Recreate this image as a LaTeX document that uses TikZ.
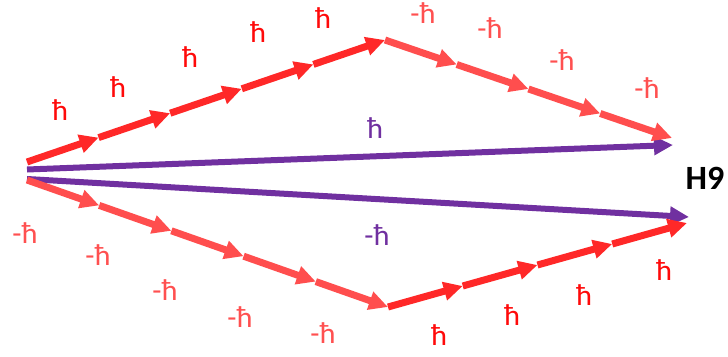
\documentclass[tikz,border=0pt]{standalone}
\usepackage{fontspec}
\setmainfont{Carlito}
\usetikzlibrary{arrows.meta,calc}
\definecolor{redup}{RGB}{255,40,40}
\definecolor{reddn}{RGB}{255,78,78}
\definecolor{lblup}{RGB}{255,10,10}
\definecolor{lbldn}{RGB}{255,80,80}
\definecolor{purp}{RGB}{112,48,160}
\tikzset{
  seg/.style={line width=7pt,-{Triangle[length=19pt,width=18pt]}},
  pseg/.style={line width=6pt,purp,-{Triangle[length=19pt,width=18pt]}},
  lbl/.style={inner sep=0pt,font=\fontsize{30}{30}\selectfont},
}
\begin{document}
\begin{tikzpicture}[x=1pt,y=-1pt]
\useasboundingbox (0,0) rectangle (728,356);
% key points
\coordinate (T0) at (27,162);
\coordinate (T5) at (385,40);
\coordinate (T9) at (672,138);
\coordinate (B0) at (27,180);
\coordinate (B5) at (388,307);
\coordinate (B9) at (687,223);
\coordinate (P0) at (27,169.5);
\coordinate (P1) at (673,145);
\coordinate (Q0) at (27,179);
\coordinate (Q1) at (689,217);
% purple arrows
\draw[pseg] (P0) -- (P1);
\draw[pseg] (Q0) -- (Q1);
% red chains
\foreach \i [evaluate=\i as \j using int(\i-1)] in {1,...,5} {
  \draw[seg,redup] ($(T0)!\j/5!(T5)$) -- ($(T0)!\i/5!(T5)$);
  \draw[seg,reddn] ($(B0)!\j/5!(B5)$) -- ($(B0)!\i/5!(B5)$);
}
\foreach \i [evaluate=\i as \j using int(\i-1)] in {1,...,4} {
  \draw[seg,reddn] ($(T5)!\j/4!(T9)$) -- ($(T5)!\i/4!(T9)$);
  \draw[seg,redup] ($(B5)!\j/4!(B9)$) -- ($(B5)!\i/4!(B9)$);
}
% labels
\foreach \p [count=\k] in {(60,110),(118,87),(190,57),(258,32),(323,18)}
  \node[lbl,text=lblup] (tu\k) at \p {ħ};
\foreach \p [count=\k] in {(423,13),(490,28),(562,60),(647,88)}
  \node[lbl,text=lbldn] (td\k) at \p {-ħ};
\foreach \p [count=\k] in {(25,233),(98,255),(165,290),(240,317),(323,333)}
  \node[lbl,text=lbldn] (bd\k) at \p {-ħ};
\foreach \p [count=\k] in {(439,335),(512,315),(584,295),(664,270)}
  \node[lbl,text=lblup] (bu\k) at \p {ħ};
\node[lbl,text=purp] (pl) at (375,128) {ħ};
\node[lbl,text=purp] (ql) at (377,235) {-ħ};
\node[inner sep=0pt,font=\fontsize{34}{34}\selectfont\bfseries] (h9) at (705,178) {H9};
\end{tikzpicture}
\end{document}
